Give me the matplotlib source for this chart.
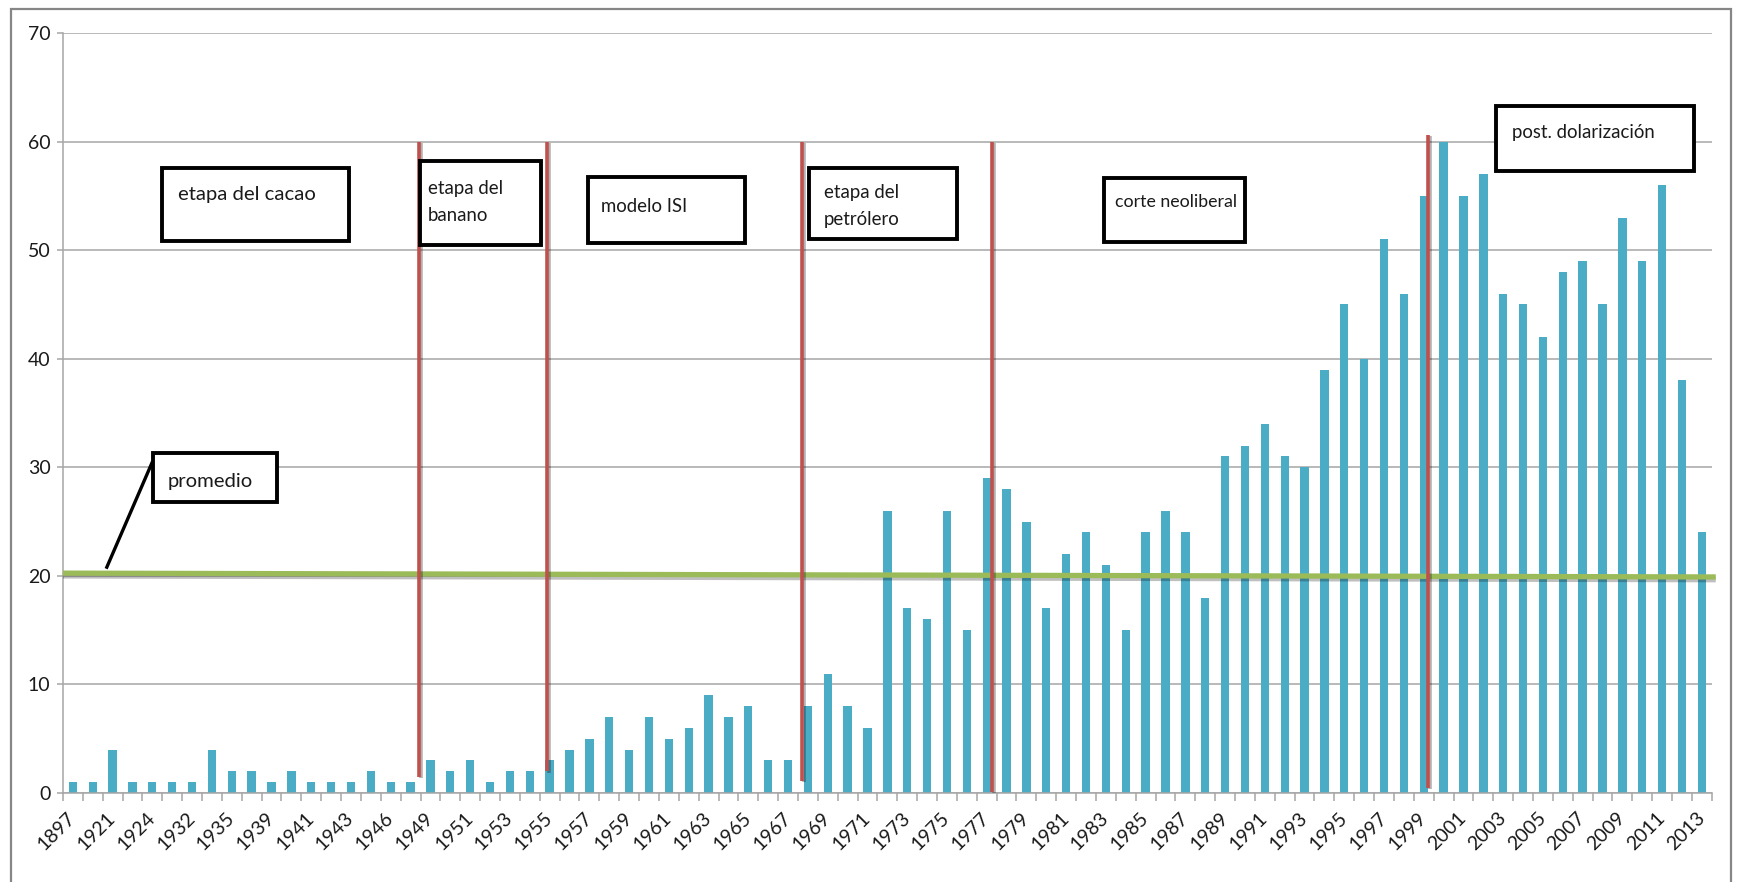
import numpy as np
import matplotlib
matplotlib.use("Agg")
import matplotlib.pyplot as plt
import matplotlib.patheffects as pe
from matplotlib.patches import Rectangle

plt.rcParams['font.family'] = ['Lato', 'DejaVu Sans']

# años (categorías) y valores de la serie
anios_ini = [1897, 1920, 1921, 1922, 1924, 1930, 1932, 1934, 1935, 1937,
             1939, 1940, 1941, 1942, 1943, 1945, 1946, 1948]
anios = anios_ini + list(range(1949, 2014))
valores = [1, 1, 4, 1, 1, 1, 1, 4, 2, 2, 1, 2, 1, 1, 1, 2, 1, 1,
           3, 2, 3, 1, 2, 2, 3, 4, 5,
           7, 4, 7, 5, 6, 9, 7, 8, 3, 3,
           8, 11, 8, 6, 26, 17, 16, 26, 15, 29,
           28, 25, 17, 22, 24, 21, 15, 24, 26, 24,
           18, 31, 32, 34, 31, 30, 39, 45, 40, 51,
           46, 55, 60, 55, 57, 46, 45, 42, 48, 49,
           45, 53, 49, 56, 38, 24]

# promedio (línea verde), inicio y fin
promedio = [20.25, 19.9]

# cortes entre etapas: posición en el eje de categorías, valor inferior y superior
cortes_x = [17.44, 23.88, 36.7, 46.25, 68.2]
cortes_inf = [1.5, 2.0, 1.1, 0.1, 0.5]
cortes_sup = [60, 60, 60, 60, 60.6]

azul = '#4BACC6'
rojo = '#C0504D'
verde = '#9BBB59'
gris = '#A6A6A6'

fig = plt.figure(figsize=(17.43, 8.82), dpi=100)
ax = fig.add_axes([0.0361, 0.1009, 0.946, 0.8617])

x = np.arange(len(anios))
ax.bar(x, valores, width=0.42, color=azul, zorder=2)

ax.set_xlim(-0.5, len(anios) - 0.5)
ax.set_ylim(0, 70)
ax.set_yticks(range(0, 71, 10))
ax.yaxis.grid(True, color=gris, linewidth=1.1, zorder=0)

for s in ['top', 'right']:
    ax.spines[s].set_visible(False)
for s in ['left', 'bottom']:
    ax.spines[s].set_color(gris)
    ax.spines[s].set_linewidth(1.1)

ax.tick_params(axis='y', length=4, width=1.1, color=gris, labelsize=14, pad=5,
               labelcolor='#1a1a1a')

# marcas entre categorías y etiquetas cada dos años
ax.set_xticks(np.arange(-0.5, len(anios), 1), minor=True)
ax.tick_params(axis='x', which='minor', length=6, width=1.1, color=gris)
ax.set_xticks(x[::2])
ax.set_xticklabels([str(a) for a in anios[::2]], rotation=45, ha='right',
                   va='center', rotation_mode='anchor', fontsize=14,
                   color='#1a1a1a')
ax.tick_params(axis='x', which='major', length=0, pad=16)

# línea de promedio
ax.plot([-0.5, len(anios) - 0.3], promedio, color=verde, linewidth=3.8,
        solid_capstyle='butt', zorder=4, clip_on=False,
        path_effects=[pe.SimpleLineShadow(offset=(0, -2), alpha=0.25),
                      pe.Normal()])

# líneas rojas de etapas
for cx, y0, y1 in zip(cortes_x, cortes_inf, cortes_sup):
    ax.plot([cx, cx], [y0, y1], color=rojo, linewidth=2.6, zorder=5,
            solid_capstyle='butt',
            path_effects=[pe.SimpleLineShadow(offset=(1.5, -1), alpha=0.3),
                          pe.Normal()])


def caja(x0, x1, y0, y1, texto, tx, ty, tam=13.4):
    ax.add_patch(Rectangle((x0, y0), x1 - x0, y1 - y0, facecolor='white',
                           edgecolor='black', linewidth=2.8, zorder=6,
                           clip_on=False))
    ax.text(tx, ty, texto, ha='left', va='center', fontsize=tam,
            color='#1a1a1a', linespacing=1.7, zorder=7)


caja(4.48, 13.89, 50.84, 57.57, 'etapa del cacao', 5.29, 55.1, tam=14.6)
caja(17.47, 23.56, 50.5, 58.2, 'etapa del\nbanano', 17.87, 54.4)
caja(25.92, 33.82, 50.66, 56.7, 'modelo ISI', 26.58, 54.0)
caja(37.04, 44.49, 51.0, 57.57, 'etapa del\npetrólero', 37.8, 54.1)
caja(51.89, 58.99, 50.75, 56.6, 'corte neoliberal', 52.45, 54.4, tam=12.8)
caja(71.62, 81.58, 57.29, 63.28, 'post. dolarización', 72.42, 60.8)

# caja del promedio con su línea
ax.plot([1.71, 3.98], [20.8, 30.4], color='black', linewidth=2.4, zorder=6)
caja(4.03, 10.27, 26.8, 31.32, 'promedio', 4.78, 28.7, tam=14.6)

# marco del área del gráfico
fig.patches.append(Rectangle((11 / 1743, -0.1), (1731 - 11) / 1743,
                             1.1 - 9 / 882, transform=fig.transFigure,
                             facecolor='none', edgecolor='#868686',
                             linewidth=1.6))

fig.savefig('out.png', dpi=100)
